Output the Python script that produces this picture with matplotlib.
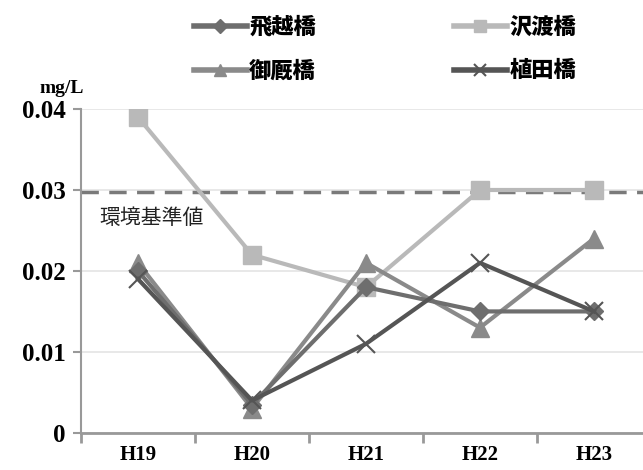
import numpy as np
import matplotlib.pyplot as plt
from matplotlib.lines import Line2D

plt.rcParams['font.family'] = ['Noto Sans CJK JP', 'DejaVu Sans']

years = ['H19', 'H20', 'H21', 'H22', 'H23']
tobikoe = [0.020, 0.0035, 0.018, 0.015, 0.015]
sawatari = [0.039, 0.022, 0.018, 0.030, 0.030]
ommaya = [0.021, 0.003, 0.021, 0.013, 0.024]
ueda = [0.019, 0.004, 0.011, 0.021, 0.015]
standard = 0.0297
yticks = [0, 0.01, 0.02, 0.03, 0.04]
ytick_labels = ['0', '0.01', '0.02', '0.03', '0.04']

fig = plt.figure(figsize=(6.43, 4.70), dpi=100)
ax = fig.add_axes([0.126, 0.079, 0.874, 0.689])

x = np.arange(len(years))
ax.plot(x, tobikoe, color='#6e6e6e', lw=3, marker='D', ms=9, zorder=4)
ax.plot(x, sawatari, color='#b9b9b9', lw=3, marker='s', ms=13, zorder=3)
ax.plot(x, ommaya, color='#8a8a8a', lw=3, marker='^', ms=13, zorder=3)
ax.plot(x, ueda, color='#555555', lw=3, marker='x', ms=13, mew=1.5, zorder=5)

ax.axhline(standard, color='#7a7a7a', lw=2.5, ls=(0, (5, 3)), zorder=2)
ax.text(-0.34, 0.0265, '環境基準値', fontsize=15, color='#222222', va='center')

ax.set_xlim(-0.5, 4.43)
ax.set_ylim(0, 0.04)
ax.set_yticks(yticks)
ax.set_yticklabels(ytick_labels, family='Liberation Serif', fontweight='bold', fontsize=18)
ax.set_xticks(x)
ax.set_xticklabels(years, family='Liberation Serif', fontweight='bold', fontsize=15)
ax.set_xticks(np.arange(-0.5, 4.5, 1), minor=True)
ax.tick_params(axis='x', which='major', length=0, pad=9)
ax.tick_params(axis='x', which='minor', length=7, width=2, color='#999999')
ax.tick_params(axis='y', length=6, width=1.5, color='#999999', pad=5)
ax.grid(axis='y', color='#e4e4e4', lw=1.2)
ax.set_axisbelow(True)
for s in ['top', 'right']:
    ax.spines[s].set_visible(False)
ax.spines['left'].set_color('#999999')
ax.spines['bottom'].set_color('#999999')
ax.spines['bottom'].set_linewidth(2)
ax.spines['left'].set_linewidth(1.5)

fig.text(0.062, 0.803, 'mg/L', fontsize=14, fontweight='bold', family='Liberation Serif')

# legend fills column-wise, so order is col 1 then col 2
handles = [
    Line2D([], [], color='#6e6e6e', lw=4, marker='D', ms=7),
    Line2D([], [], color='#8a8a8a', lw=4, marker='^', ms=9),
    Line2D([], [], color='#b9b9b9', lw=4, marker='s', ms=9),
    Line2D([], [], color='#555555', lw=4, marker='x', ms=9, mew=1.5),
]
labels = ['飛越橋', '御厩橋', '沢渡橋', '植田橋']
fig.legend(handles, labels, ncol=2, loc='upper left', bbox_to_anchor=(0.27, 1.01),
           frameon=False, prop={'weight': 'heavy', 'size': 16}, handlelength=2.4,
           handletextpad=0.1, columnspacing=6.2, labelspacing=0.95)

fig.savefig('out.png', dpi=100)
